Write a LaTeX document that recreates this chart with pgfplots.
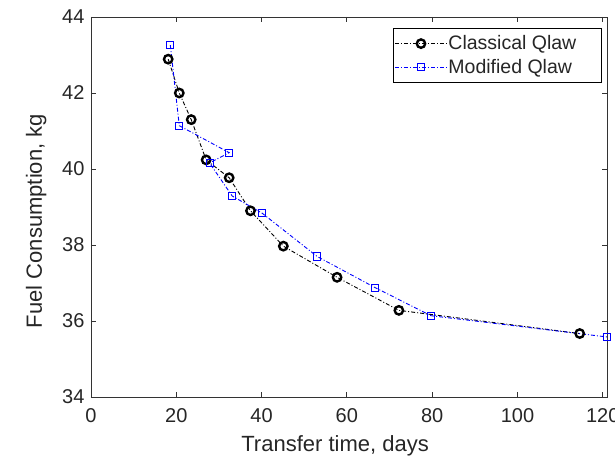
\documentclass[border=0pt]{standalone}
\usepackage{fontspec}
\setmainfont{Liberation Sans}
\usepackage{pgfplots}
\pgfplotsset{compat=1.18}
\begin{document}
\begin{tikzpicture}
\begin{axis}[
  scale only axis,
  width=516pt, height=380pt,
  xmin=0, xmax=121, ymin=34, ymax=44,
  xtick={0,20,...,120}, ytick={34,36,...,44},
  tick align=inside,
  major tick length=5pt,
  axis line style={line width=0.8pt, color=black!80},
  every tick/.style={line width=0.8pt, color=black!80},
  /pgf/number format/assume math mode=true,
  tick label style={font=\fontsize{20}{22}\selectfont, text=black!85},
  xticklabel style={yshift=-8pt},
  yticklabel style={xshift=-3pt},
  xlabel={Transfer time, days},
  ylabel={Fuel Consumption, kg},
  label style={font=\fontsize{22}{24}\selectfont, text=black!85},
  xlabel style={at={(axis description cs:0.473,-0.129)}, anchor=center},
  ylabel style={at={(axis description cs:-0.106,0.463)}, anchor=center, rotate=0},
  legend style={at={(axis description cs:0.99,0.97)}, anchor=north east,
    draw=black, line width=0.8pt, font=\fontsize{19.5}{21}\selectfont,
    inner xsep=1pt, inner ysep=5pt, row sep=4pt, legend cell align=left, text=black!85,
    nodes={inner xsep=1pt}},
  legend image code/.code={\draw[mark repeat=2,mark phase=2] plot coordinates {(0pt,0pt) (26pt,0pt) (52pt,0pt)};},
]
\addplot[black, line width=0.9pt, dash pattern=on 4pt off 2pt on 1pt off 2pt,
  mark=o, mark size=4.2pt, mark options={solid, line width=2.4pt}]
coordinates {
(18.1,42.89) (20.7,42.0) (23.5,41.3) (27.0,40.24) (32.4,39.77)
(37.4,38.9) (45.1,37.97) (57.7,37.15) (72.2,36.28) (114.6,35.67)
};
\addlegendentry{\makebox[151pt][l]{Classical Qlaw}}
\addplot[blue, line width=0.9pt, dash pattern=on 4pt off 2pt on 1pt off 2pt,
  mark=square, mark size=3.6pt, mark options={solid, line width=0.9pt}]
coordinates {
(18.6,43.26) (20.7,41.14) (32.4,40.43) (27.8,40.16) (33.1,39.29)
(40.1,38.84) (53.0,37.70) (66.6,36.88) (79.7,36.14) (121,35.58)
};
\addlegendentry{\makebox[151pt][l]{Modified Qlaw}}
\end{axis}
\pgfresetboundingbox
\useasboundingbox ([shift={(-91pt,-66pt)}]current axis.south west) rectangle ([shift={(8pt,17pt)}]current axis.north east);
\end{tikzpicture}
\end{document}
